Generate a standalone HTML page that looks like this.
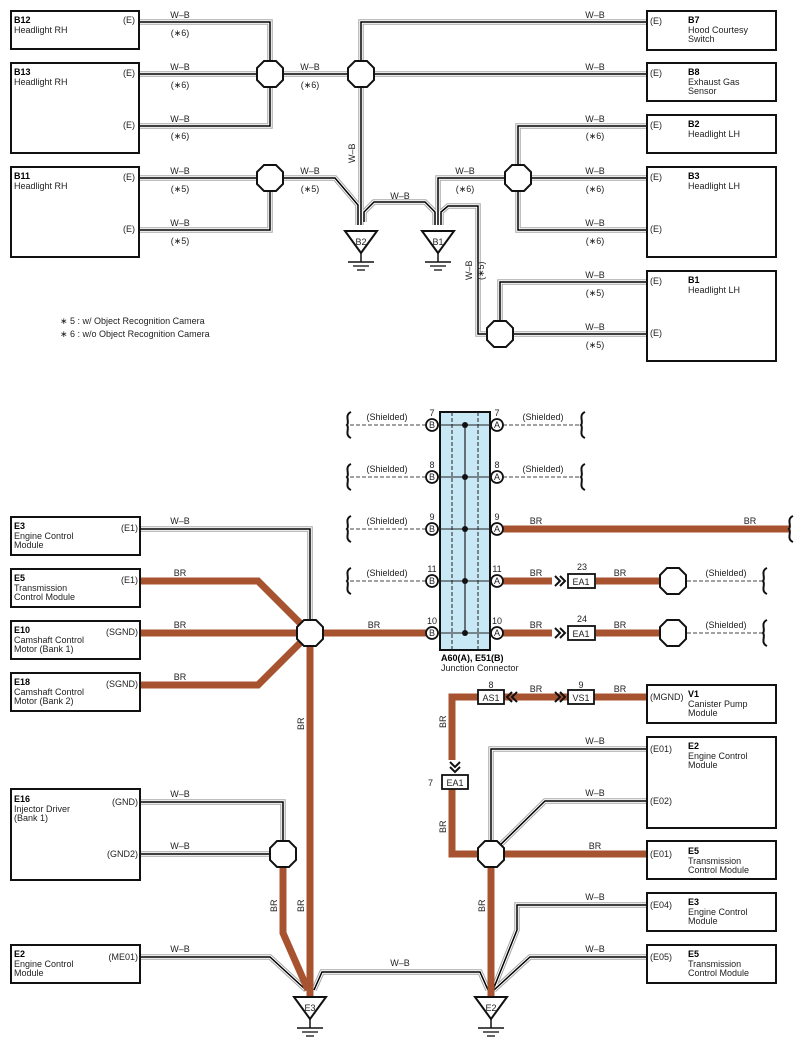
<!DOCTYPE html>
<html><head><meta charset="utf-8"><style>
html,body{margin:0;padding:0;background:#fff}
svg{display:block}
text{font-family:"Liberation Sans",sans-serif;font-size:9px;fill:#222}
.b{font-weight:bold;fill:#000}
.box{fill:#fff;stroke:#111;stroke-width:2}
.g{fill:none;stroke:#a8a8a8;stroke-width:5.5}
.w{fill:none;stroke:#fff;stroke-width:3.4}
.k{fill:none;stroke:#000;stroke-width:1.5}
.br{fill:none;stroke:#a8532f;stroke-width:7}
.oct{fill:#fff;stroke:#111;stroke-width:2}
.ds{fill:none;stroke:#444;stroke-width:1;stroke-dasharray:4 2}
.sq{fill:none;stroke:#111;stroke-width:2}
</style></head><body>
<svg width="802" height="1050" viewBox="0 0 802 1050" xmlns="http://www.w3.org/2000/svg">
<defs>
<polygon id="oc" points="-6,-13 6,-13 13,-6 13,6 6,13 -6,13 -13,6 -13,-6"/>
<g id="gnd"><polygon points="-16,-11 16,-11 0,11" fill="#fff" stroke="#111" stroke-width="2"/><line x1="0" y1="11" x2="0" y2="20" stroke="#111" stroke-width="1.5"/><line x1="-13" y1="20" x2="13" y2="20" stroke="#111" stroke-width="1.5"/><line x1="-8" y1="24" x2="8" y2="24" stroke="#111" stroke-width="1.3"/><line x1="-4" y1="28" x2="4" y2="28" stroke="#111" stroke-width="1.3"/></g>
<path id="sqp" d="M3,-13 C-4,-10 2,-3 -1,0 C2,3 -4,10 3,13"/>
<g id="chv"><polyline points="0,-5 5,0 0,5" fill="none" stroke="#111" stroke-width="2"/><polyline points="5,-5 10,0 5,5" fill="none" stroke="#111" stroke-width="2"/></g>
<path id="w1" d="M139,22 H270 V74"/>
<path id="w2" d="M139,74 H361"/>
<path id="w3" d="M139,126 H270 V74"/>
<path id="w4" d="M139,178 H335 L358,205 V225"/>
<path id="w5" d="M139,230 H270 V178"/>
<path id="w6" d="M647,22 H361 V225"/>
<path id="w7" d="M361,74 H647"/>
<path id="w8" d="M364,222 V212 L374,202 H425 L435,212 V225"/>
<path id="w9" d="M438,225 V178 H647"/>
<path id="w10" d="M441,225 V212 L448,206 H478 V334 H500"/>
<path id="w11" d="M647,126 H518 V230 H647"/>
<path id="w12" d="M500,334 V282 H647"/>
<path id="w13" d="M500,334 H647"/>
<path id="w14" d="M139,529 H310 V633"/>
<path id="w15" d="M139,802 H283 V854"/>
<path id="w16" d="M139,854 H283"/>
<path id="w17" d="M139,957 H270 L306,990"/>
<path id="w18" d="M314,990 L322,972 H480 L488,990"/>
<path id="w19" d="M647,749 H491 V854"/>
<path id="w20" d="M647,801 H545 L491,854"/>
<path id="w21" d="M647,905 H517 V930 L493,990"/>
<path id="w22" d="M647,957 H530 L494,990"/>
</defs>

<g class="g"><use href="#w1"/><use href="#w2"/><use href="#w3"/><use href="#w4"/><use href="#w5"/><use href="#w6"/><use href="#w7"/><use href="#w8"/><use href="#w9"/><use href="#w10"/><use href="#w11"/><use href="#w12"/><use href="#w13"/><use href="#w14"/><use href="#w15"/><use href="#w16"/><use href="#w17"/><use href="#w18"/><use href="#w19"/><use href="#w20"/><use href="#w21"/><use href="#w22"/></g>
<g class="w"><use href="#w1"/><use href="#w2"/><use href="#w3"/><use href="#w4"/><use href="#w5"/><use href="#w6"/><use href="#w7"/><use href="#w8"/><use href="#w9"/><use href="#w10"/><use href="#w11"/><use href="#w12"/><use href="#w13"/><use href="#w14"/><use href="#w15"/><use href="#w16"/><use href="#w17"/><use href="#w18"/><use href="#w19"/><use href="#w20"/><use href="#w21"/><use href="#w22"/></g>
<g class="k"><use href="#w1"/><use href="#w2"/><use href="#w3"/><use href="#w4"/><use href="#w5"/><use href="#w6"/><use href="#w7"/><use href="#w8"/><use href="#w9"/><use href="#w10"/><use href="#w11"/><use href="#w12"/><use href="#w13"/><use href="#w14"/><use href="#w15"/><use href="#w16"/><use href="#w17"/><use href="#w18"/><use href="#w19"/><use href="#w20"/><use href="#w21"/><use href="#w22"/></g>

<g class="br">
<path d="M139,581 H258 L310,633"/>
<path d="M139,633 H426"/>
<path d="M139,685 H258 L310,633"/>
<path d="M310,633 V1000"/>
<path d="M283,854 V933 L308,990"/>
<path d="M503,529 H790"/>
<path d="M503,581 H552 M596,581 H673"/>
<path d="M503,633 H552 M596,633 H673"/>
<path d="M647,697 H594 M568,697 H504 M478,697 H452 V760 M452,789 V854 H647"/>
<path d="M491,854 V1000"/>
</g>

<rect class="box" x="11" y="11" width="128" height="38"/>
<rect class="box" x="11" y="63" width="128" height="90"/>
<rect class="box" x="11" y="167" width="128" height="90"/>
<text class="b" x="14" y="23">B12</text><text x="14" y="33">Headlight RH</text>
<text class="b" x="14" y="75">B13</text><text x="14" y="85">Headlight RH</text>
<text class="b" x="14" y="179">B11</text><text x="14" y="189">Headlight RH</text>
<text x="123" y="23">(E)</text><text x="123" y="76">(E)</text><text x="123" y="128">(E)</text>
<text x="123" y="180">(E)</text><text x="123" y="232">(E)</text>
<rect class="box" x="647" y="11" width="129" height="39"/>
<rect class="box" x="647" y="63" width="129" height="38"/>
<rect class="box" x="647" y="115" width="129" height="38"/>
<rect class="box" x="647" y="167" width="129" height="90"/>
<rect class="box" x="647" y="271" width="129" height="90"/>
<text x="650" y="24">(E)</text><text class="b" x="688" y="23">B7</text><text x="688" y="33">Hood Courtesy</text><text x="688" y="42">Switch</text>
<text x="650" y="76">(E)</text><text class="b" x="688" y="75">B8</text><text x="688" y="85">Exhaust Gas</text><text x="688" y="94">Sensor</text>
<text x="650" y="128">(E)</text><text class="b" x="688" y="127">B2</text><text x="688" y="137">Headlight LH</text>
<text x="650" y="180">(E)</text><text class="b" x="688" y="179">B3</text><text x="688" y="189">Headlight LH</text><text x="650" y="232">(E)</text>
<text x="650" y="284">(E)</text><text class="b" x="688" y="283">B1</text><text x="688" y="293">Headlight LH</text><text x="650" y="336">(E)</text>

<g text-anchor="middle">
<text x="180" y="18">W–B</text><text x="180" y="36">(∗6)</text>
<text x="180" y="70">W–B</text><text x="180" y="88">(∗6)</text>
<text x="180" y="122">W–B</text><text x="180" y="139">(∗6)</text>
<text x="180" y="174">W–B</text><text x="180" y="192">(∗5)</text>
<text x="180" y="226">W–B</text><text x="180" y="244">(∗5)</text>
<text x="310" y="70">W–B</text><text x="310" y="88">(∗6)</text>
<text x="310" y="174">W–B</text><text x="310" y="192">(∗5)</text>
<text x="595" y="18">W–B</text><text x="595" y="70">W–B</text>
<text x="595" y="122">W–B</text><text x="595" y="139">(∗6)</text>
<text x="595" y="174">W–B</text><text x="595" y="192">(∗6)</text>
<text x="595" y="226">W–B</text><text x="595" y="244">(∗6)</text>
<text x="595" y="278">W–B</text><text x="595" y="296">(∗5)</text>
<text x="595" y="330">W–B</text><text x="595" y="348">(∗5)</text>
<text x="400" y="199">W–B</text>
<text x="465" y="174">W–B</text><text x="465" y="192">(∗6)</text>
</g>
<text transform="translate(355,163) rotate(-90)">W–B</text>
<text transform="translate(472,280) rotate(-90)">W–B</text>
<text transform="translate(484,280) rotate(-90)">(∗5)</text>
<text x="60" y="324">∗ 5 : w/ Object Recognition Camera</text>
<text x="60" y="337">∗ 6 : w/o Object Recognition Camera</text>

<g class="oct"><use href="#oc" x="270" y="74"/><use href="#oc" x="361" y="74"/><use href="#oc" x="270" y="178"/><use href="#oc" x="518" y="178"/><use href="#oc" x="500" y="334"/></g>
<use href="#gnd" x="361" y="242"/><text x="361" y="245" text-anchor="middle">B2</text>
<use href="#gnd" x="438" y="242"/><text x="438" y="245" text-anchor="middle">B1</text>

<rect x="440" y="412" width="50" height="238" fill="#c9e8f6" stroke="#111" stroke-width="2"/>
<line x1="452" y1="412" x2="452" y2="650" stroke="#222" stroke-dasharray="4 2"/>
<line x1="478" y1="412" x2="478" y2="650" stroke="#222" stroke-dasharray="4 2"/>
<line x1="465" y1="425" x2="465" y2="633" stroke="#222" stroke-width="1.2"/>
<g stroke="#222" stroke-width="1">
<line x1="432" y1="425" x2="497" y2="425"/><line x1="432" y1="477" x2="497" y2="477"/><line x1="432" y1="529" x2="497" y2="529"/><line x1="432" y1="581" x2="497" y2="581"/><line x1="432" y1="633" x2="497" y2="633"/>
</g>
<g fill="#111"><circle cx="465" cy="425" r="3"/><circle cx="465" cy="477" r="3"/><circle cx="465" cy="529" r="3"/><circle cx="465" cy="581" r="3"/><circle cx="465" cy="633" r="3"/></g>
<g class="ds">
<path d="M350,425 H426 M503,425 H580"/><path d="M350,477 H426 M503,477 H580"/><path d="M350,529 H426"/><path d="M350,581 H426"/><path d="M687,581 H762 M687,633 H762"/>
</g>
<g class="sq"><use href="#sqp" x="348" y="425"/><use href="#sqp" x="348" y="477"/><use href="#sqp" x="348" y="529"/><use href="#sqp" x="348" y="581"/><use href="#sqp" x="582" y="425"/><use href="#sqp" x="582" y="477"/><use href="#sqp" x="790" y="529"/><use href="#sqp" x="764" y="581"/><use href="#sqp" x="764" y="633"/></g>
<g fill="#fff" stroke="#111" stroke-width="1.8">
<circle cx="432" cy="425" r="6"/><circle cx="432" cy="477" r="6"/><circle cx="432" cy="529" r="6"/><circle cx="432" cy="581" r="6"/><circle cx="432" cy="633" r="6"/>
<circle cx="497" cy="425" r="6"/><circle cx="497" cy="477" r="6"/><circle cx="497" cy="529" r="6"/><circle cx="497" cy="581" r="6"/><circle cx="497" cy="633" r="6"/>
</g>
<g text-anchor="middle" font-size="8">
<text x="432" y="428">B</text><text x="432" y="480">B</text><text x="432" y="532">B</text><text x="432" y="584">B</text><text x="432" y="636">B</text>
<text x="497" y="428">A</text><text x="497" y="480">A</text><text x="497" y="532">A</text><text x="497" y="584">A</text><text x="497" y="636">A</text>
<text x="432" y="416">7</text><text x="432" y="468">8</text><text x="432" y="520">9</text><text x="432" y="572">11</text><text x="432" y="624">10</text>
<text x="497" y="416">7</text><text x="497" y="468">8</text><text x="497" y="520">9</text><text x="497" y="572">11</text><text x="497" y="624">10</text>
</g>
<g text-anchor="middle">
<text x="387" y="420">(Shielded)</text><text x="387" y="472">(Shielded)</text><text x="387" y="524">(Shielded)</text><text x="387" y="576">(Shielded)</text>
<text x="543" y="420">(Shielded)</text><text x="543" y="472">(Shielded)</text>
<text x="726" y="576">(Shielded)</text><text x="726" y="628">(Shielded)</text>
<text x="536" y="524">BR</text><text x="750" y="524">BR</text>
<text x="536" y="576">BR</text><text x="536" y="628">BR</text>
<text x="620" y="576">BR</text><text x="620" y="628">BR</text>
<text x="374" y="628">BR</text>
<text x="180" y="524">W–B</text><text x="180" y="576">BR</text><text x="180" y="628">BR</text><text x="180" y="680">BR</text>
<text x="180" y="797">W–B</text><text x="180" y="849">W–B</text><text x="180" y="952">W–B</text>
<text x="400" y="966">W–B</text>
<text x="536" y="692">BR</text><text x="620" y="692">BR</text>
<text x="595" y="744">W–B</text><text x="595" y="796">W–B</text><text x="595" y="849">BR</text>
<text x="595" y="900">W–B</text><text x="595" y="952">W–B</text>
<text x="582" y="570">23</text><text x="582" y="622">24</text>
<text x="491" y="688">8</text><text x="581" y="688">9</text>
</g>
<text x="428" y="786">7</text>
<text class="b" x="441" y="661">A60(A), E51(B)</text><text x="441" y="671">Junction Connector</text>

<g fill="#fff" stroke="#111" stroke-width="1.8">
<rect x="568" y="574" width="27" height="14"/><rect x="568" y="626" width="27" height="14"/>
<rect x="478" y="690" width="26" height="14"/><rect x="568" y="690" width="26" height="14"/>
<rect x="442" y="775" width="26" height="14"/>
</g>
<g text-anchor="middle">
<text x="581" y="585">EA1</text><text x="581" y="637">EA1</text><text x="491" y="701">AS1</text><text x="581" y="701">VS1</text><text x="455" y="786">EA1</text>
</g>
<use href="#chv" x="555" y="581"/><use href="#chv" x="555" y="633"/><use href="#chv" x="555" y="697"/>
<use href="#chv" transform="translate(517,697) scale(-1,1)"/>
<use href="#chv" transform="translate(455,762) rotate(90)"/>

<g class="oct"><use href="#oc" x="310" y="633"/><use href="#oc" x="283" y="854"/><use href="#oc" x="673" y="581"/><use href="#oc" x="673" y="633"/><use href="#oc" x="491" y="854"/></g>
<use href="#gnd" x="310" y="1008"/><text x="310" y="1011" text-anchor="middle">E3</text>
<use href="#gnd" x="491" y="1008"/><text x="491" y="1011" text-anchor="middle">E2</text>
<text transform="translate(304,730) rotate(-90)">BR</text>
<text transform="translate(277,912) rotate(-90)">BR</text>
<text transform="translate(304,912) rotate(-90)">BR</text>
<text transform="translate(485,912) rotate(-90)">BR</text>
<text transform="translate(446,728) rotate(-90)">BR</text>
<text transform="translate(446,833) rotate(-90)">BR</text>

<rect class="box" x="11" y="517" width="129" height="38"/>
<rect class="box" x="11" y="569" width="129" height="38"/>
<rect class="box" x="11" y="621" width="129" height="38"/>
<rect class="box" x="11" y="673" width="129" height="38"/>
<rect class="box" x="11" y="789" width="129" height="91"/>
<rect class="box" x="11" y="945" width="129" height="38"/>
<text class="b" x="14" y="529">E3</text><text x="14" y="539">Engine Control</text><text x="14" y="548">Module</text><text x="138" y="531" text-anchor="end">(E1)</text>
<text class="b" x="14" y="581">E5</text><text x="14" y="591">Transmission</text><text x="14" y="600">Control Module</text><text x="138" y="583" text-anchor="end">(E1)</text>
<text class="b" x="14" y="633">E10</text><text x="14" y="643">Camshaft Control</text><text x="14" y="652">Motor (Bank 1)</text><text x="138" y="635" text-anchor="end">(SGND)</text>
<text class="b" x="14" y="685">E18</text><text x="14" y="695">Camshaft Control</text><text x="14" y="704">Motor (Bank 2)</text><text x="138" y="687" text-anchor="end">(SGND)</text>
<text class="b" x="14" y="802">E16</text><text x="14" y="812">Injector Driver</text><text x="14" y="821">(Bank 1)</text><text x="138" y="805" text-anchor="end">(GND)</text><text x="138" y="857" text-anchor="end">(GND2)</text>
<text class="b" x="14" y="957">E2</text><text x="14" y="967">Engine Control</text><text x="14" y="976">Module</text><text x="138" y="960" text-anchor="end">(ME01)</text>

<rect class="box" x="647" y="685" width="129" height="38"/>
<rect class="box" x="647" y="737" width="129" height="91"/>
<rect class="box" x="647" y="841" width="129" height="38"/>
<rect class="box" x="647" y="893" width="129" height="38"/>
<rect class="box" x="647" y="945" width="129" height="38"/>
<text x="650" y="700">(MGND)</text><text class="b" x="688" y="697">V1</text><text x="688" y="707">Canister Pump</text><text x="688" y="716">Module</text>
<text x="650" y="752">(E01)</text><text class="b" x="688" y="749">E2</text><text x="688" y="759">Engine Control</text><text x="688" y="768">Module</text><text x="650" y="804">(E02)</text>
<text x="650" y="857">(E01)</text><text class="b" x="688" y="854">E5</text><text x="688" y="864">Transmission</text><text x="688" y="873">Control Module</text>
<text x="650" y="908">(E04)</text><text class="b" x="688" y="905">E3</text><text x="688" y="915">Engine Control</text><text x="688" y="924">Module</text>
<text x="650" y="960">(E05)</text><text class="b" x="688" y="957">E5</text><text x="688" y="967">Transmission</text><text x="688" y="976">Control Module</text>
</svg>
</body></html>
